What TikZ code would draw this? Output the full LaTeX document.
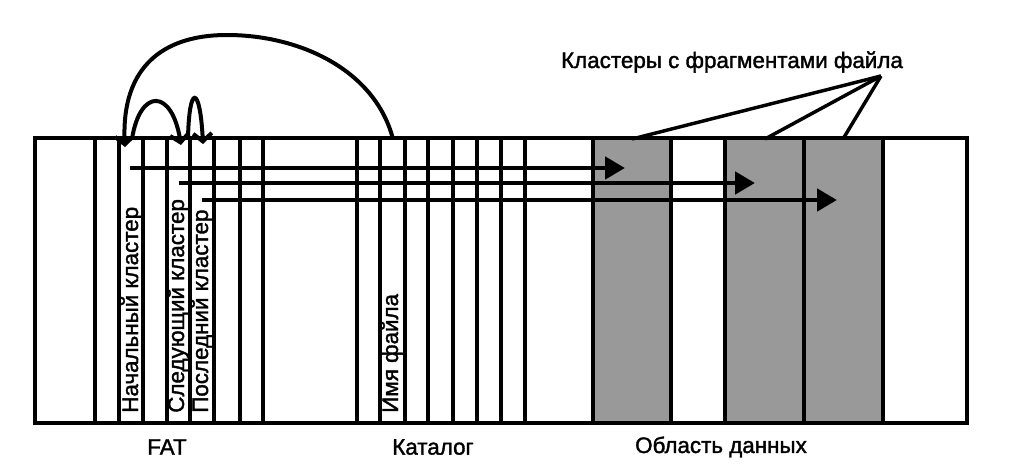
\documentclass[tikz,border=0pt]{standalone}
\usepackage{fontspec}
\setmainfont{Liberation Sans}[FakeBold=1.6]
\usetikzlibrary{arrows.meta}
\definecolor{cellgray}{RGB}{153,153,153}
\begin{document}
\begin{tikzpicture}[x=0.75pt,y=-0.75pt,
  lbl/.style={font=\fontsize{16.8pt}{19pt}\selectfont, inner sep=0pt},
  vlbl/.style={lbl, rotate=90, anchor=base west},
  cellline/.style={line width=2.6pt},
  hptr/.style={line width=3.6pt, -{Triangle[length=15pt,width=16.5pt]}},
  jump/.style={line width=3pt, -{Straight Barb[length=6pt,width=14pt]}},
  callout/.style={line width=2.6pt}]
\useasboundingbox (0,0) rectangle (1018,472);
% data clusters (filled)
\fill[cellgray] (593,138) rectangle (671,423);
\fill[cellgray] (725,138) rectangle (883,423);
% cell boundaries
\foreach \x in {95,119,143,167,190,214,240,263,357,380,405,428,453,477,501,525,593,671,725,804,883}
  \draw[cellline] (\x,138) -- (\x,423);
\draw[cellline] (35,138) rectangle (967,423);
% rotated labels
\node[vlbl] (start) at (138,413) {Начальный кластер};
\node[vlbl] (next)  at (184,413) {Следующий кластер};
\node[vlbl] (last)  at (208,413) {Последний кластер};
\node[vlbl] (fname) at (398,413) {Имя файла};
% bottom labels
\node[lbl] (fat) at (167,447) {FAT};
\node[lbl] (cat) at (433,447) {Каталог};
\node[lbl] (data) at (721,447) {Область данных};
\node[lbl] (frag) at (732,62) {Кластеры с фрагментами файла};
% horizontal pointers
\coordinate (s1) at (130,168); \coordinate (e1) at (625,168);
\coordinate (s2) at (179,183); \coordinate (e2) at (755,183);
\coordinate (s3) at (202,200); \coordinate (e3) at (837,200);
\draw[hptr] (s1) -- (e1);
\draw[hptr] (s2) -- (e2);
\draw[hptr] (s3) -- (e3);
% chain jumps
\coordinate (ftop) at (393,139);
\coordinate (c1) at (125,147);
\coordinate (c1b) at (132,139);
\coordinate (c2) at (181,145);
\coordinate (c2b) at (188,139);
\coordinate (c3) at (203,144);
\draw[jump] (ftop) .. controls (375,70) and (300,35) .. (227,35)
                   .. controls (155,35) and (121,75) .. (c1);
\draw[jump] (c1b) .. controls (140,88) and (172,88) .. (c2);
\draw[jump] (c2b) .. controls (189,84) and (200,84) .. (c3);
% callout lines
\coordinate (conv) at (881,76);
\coordinate (k1) at (632,139);
\coordinate (k2) at (765,139);
\coordinate (k3) at (843,139);
\draw[callout] (conv) -- (k1);
\draw[callout] (conv) -- (k2);
\draw[callout] (conv) -- (k3);
\end{tikzpicture}
\end{document}
